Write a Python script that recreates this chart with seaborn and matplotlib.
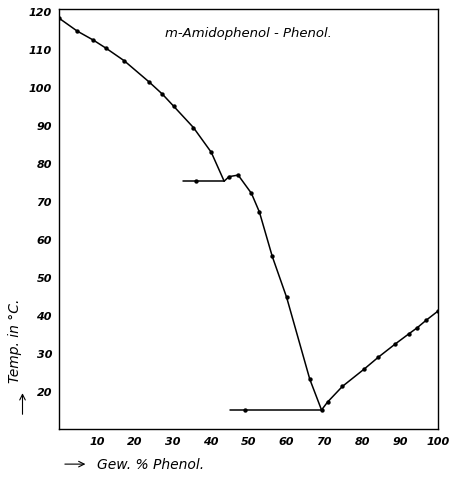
import numpy as np
import pandas as pd
import matplotlib
matplotlib.use("Agg")
import matplotlib.pyplot as plt
import seaborn as sns

# Schmelzdiagramm m-Amidophenol - Phenol

# Ast des m-Amidophenols (Messpunkte)
amido_x = [0, 4.8, 9.1, 12.4, 17.2, 23.8, 27.3, 30.3, 35.5, 40.2]
amido_y = [118.1, 114.7, 112.3, 110.2, 106.9, 101.3, 98.1, 94.9, 89.3, 82.8]

# Ast der Verbindung (Messpunkte)
verb_x = [44.9, 47.3, 50.8, 52.9, 56.3, 60.1, 66.2]
verb_y = [76.4, 76.8, 72.0, 67.1, 55.4, 44.6, 23.1]

# Ast des Phenols (Messpunkte)
phenol_x = [69.3, 70.9, 74.8, 80.6, 84.3, 88.8, 92.3, 94.5, 96.9, 100]
phenol_y = [15.0, 17.1, 21.2, 25.8, 28.9, 32.4, 35.0, 36.6, 38.6, 41.0]

# Eutektika
eut1_x = [32.8, 43.6]
eut1_y = [75.2, 75.2]
eut1_pkt_x = [36.3]
eut1_pkt_y = [75.2]
eut2_x = [45.1, 69.3]
eut2_y = [15.0, 15.0]
eut2_pkt_x = [49.1]
eut2_pkt_y = [14.9]

xticks = [10, 20, 30, 40, 50, 60, 70, 80, 90, 100]
yticks = [20, 30, 40, 50, 60, 70, 80, 90, 100, 110, 120]

sns.set_style("white")
plt.rcParams["font.family"] = ["DejaVu Sans"]
plt.rcParams["text.color"] = "black"
plt.rcParams["xtick.color"] = "black"
plt.rcParams["ytick.color"] = "black"

fig = plt.figure(figsize=(4.5, 4.85), dpi=100)
ax = fig.add_axes([0.131, 0.1134, 0.842, 0.866])

# Kurven: Messpunkte + Knickpunkte an den Eutektika
c1_x = amido_x + [eut1_x[1]]
c1_y = amido_y + [eut1_y[1]]
c2_x = [eut1_x[1]] + verb_x + [eut2_x[1]]
c2_y = [eut1_y[1]] + verb_y + [eut2_y[1]]

lw = 1.1
for xs, ys in [(c1_x, c1_y), (c2_x, c2_y), (phenol_x, phenol_y),
               (eut1_x, eut1_y), (eut2_x, eut2_y)]:
    sns.lineplot(x=xs, y=ys, sort=False, color="black", lw=lw, ax=ax)

pkt_x = amido_x + verb_x + phenol_x + eut1_pkt_x + eut2_pkt_x
pkt_y = amido_y + verb_y + phenol_y + eut1_pkt_y + eut2_pkt_y
sns.scatterplot(x=pkt_x, y=pkt_y, color="black", s=10, edgecolor="black",
                linewidth=0, ax=ax, zorder=3)

ax.set_xlim(0, 100)
ax.set_ylim(10, 120.5)
ax.set_xticks(xticks)
ax.set_yticks(yticks)
ax.set_xticklabels([str(t) for t in xticks], fontstyle="italic",
                   fontweight="bold", fontsize=8)
ax.set_yticklabels([str(t) for t in yticks], fontstyle="italic",
                   fontweight="bold", fontsize=8)
ax.tick_params(direction="in", length=4, width=0.8, color="black", pad=5)
for s in ax.spines.values():
    s.set_color("black")
    s.set_linewidth(1.0)

ax.text(0.5, 0.945, "m-Amidophenol - Phenol.", transform=ax.transAxes,
        ha="center", va="center", fontstyle="italic", fontsize=9.5)

# Achsenbeschriftungen mit Pfeilen
fig.text(0.034, 0.297, "Temp. in °C.", rotation=90, ha="center",
         va="center", fontstyle="italic", fontsize=10)
ax.annotate("", xy=(0.05, 0.193), xytext=(0.05, 0.138),
            xycoords="figure fraction", textcoords="figure fraction",
            annotation_clip=False,
            arrowprops=dict(arrowstyle="->", color="black", lw=0.8))
ax.annotate("", xy=(0.196, 0.041), xytext=(0.138, 0.041),
            xycoords="figure fraction", textcoords="figure fraction",
            annotation_clip=False,
            arrowprops=dict(arrowstyle="->", color="black", lw=0.8))
fig.text(0.215, 0.041, "Gew. % Phenol.", ha="left", va="center",
         fontstyle="italic", fontsize=10)

fig.savefig("out.png", dpi=100)
